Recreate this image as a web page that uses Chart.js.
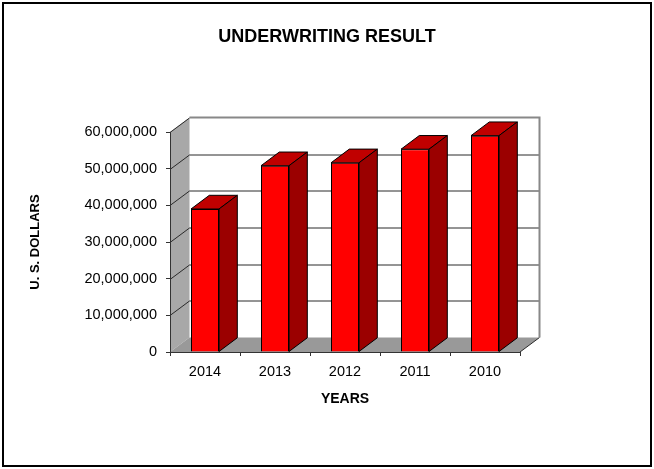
<!DOCTYPE html>
<html>
<head>
<meta charset="utf-8">
<title>Underwriting Result</title>
<script src="https://cdn.jsdelivr.net/npm/chart.js@4.4.1/dist/chart.umd.min.js"></script>
<style>
  html, body { margin: 0; padding: 0; background: #fff; }
  canvas { display: block; }
</style>
</head>
<body>
<canvas id="chart" width="654" height="469"></canvas>
<script>
const years = ['2014', '2013', '2012', '2011', '2010'];
const dollars = [39000000, 50800000, 51600000, 55300000, 59000000];
const yTicks = [0, 10000000, 20000000, 30000000, 40000000, 50000000, 60000000];

// depth of the box walls and of each column (px)
const WALL_DX = 19.5, WALL_DY = -14.5;
const BAR_DX = 18.3, BAR_DY = -13.7;

function poly(ctx, pts) {
  ctx.beginPath();
  ctx.moveTo(pts[0][0], pts[0][1]);
  for (let i = 1; i < pts.length; i++) ctx.lineTo(pts[i][0], pts[i][1]);
  ctx.closePath();
}

function line(ctx, x0, y0, x1, y1) {
  ctx.beginPath();
  ctx.moveTo(x0, y0);
  ctx.lineTo(x1, y1);
  ctx.stroke();
}

// walls, floor, gridlines and the extruded faces of the columns
const box3d = {
  id: 'box3d',
  beforeDraw(chart) {
    const {ctx, chartArea: a, scales: {y}} = chart;
    const l = a.left, r = a.right, t = a.top, b = a.bottom;
    ctx.save();
    ctx.fillStyle = '#a8a8a8';
    poly(ctx, [[l, t], [l + WALL_DX, t + WALL_DY], [l + WALL_DX, b + WALL_DY], [l, b]]);
    ctx.fill();
    ctx.fillStyle = '#999999';
    poly(ctx, [[l, b], [l + WALL_DX, b + WALL_DY], [r + WALL_DX, b + WALL_DY], [r, b]]);
    ctx.fill();

    ctx.strokeStyle = '#2a2a2a';
    ctx.lineWidth = 1;
    yTicks.forEach(v => {
      if (v === 0) return;
      const yf = Math.round(y.getPixelForValue(v)) + 0.5;
      const yb = yf + WALL_DY;
      line(ctx, l, yf, l + WALL_DX, yb);
      if (v < yTicks[yTicks.length - 1]) line(ctx, l + WALL_DX, yb, r + WALL_DX, yb);
    });
    line(ctx, r, b, r + WALL_DX, b + WALL_DY);

    // back wall outline
    ctx.strokeStyle = '#888888';
    ctx.lineWidth = 2;
    ctx.beginPath();
    ctx.moveTo(l + WALL_DX, t + WALL_DY);
    ctx.lineTo(r + WALL_DX, t + WALL_DY);
    ctx.lineTo(r + WALL_DX, b + WALL_DY);
    ctx.stroke();
    ctx.restore();
  },
  afterDatasetsDraw(chart) {
    const ctx = chart.ctx;
    ctx.save();
    ctx.strokeStyle = '#000';
    ctx.lineWidth = 1;
    ctx.lineJoin = 'round';
    chart.getDatasetMeta(0).data.forEach(bar => {
      const {x, y, base, width} = bar.getProps(['x', 'y', 'base', 'width'], true);
      const x0 = x - width / 2, x1 = x + width / 2;
      ctx.fillStyle = '#c00000';
      poly(ctx, [[x0, y], [x1, y], [x1 + BAR_DX, y + BAR_DY], [x0 + BAR_DX, y + BAR_DY]]);
      ctx.fill();
      ctx.stroke();
      ctx.fillStyle = '#9b0000';
      poly(ctx, [[x1, y], [x1 + BAR_DX, y + BAR_DY], [x1 + BAR_DX, base + BAR_DY], [x1, base]]);
      ctx.fill();
      ctx.stroke();
    });
    ctx.restore();
  },
  afterDraw(chart) {
    const ctx = chart.ctx;
    ctx.save();
    ctx.strokeStyle = '#000';
    ctx.lineWidth = 2;
    ctx.strokeRect(3, 3, chart.width - 6, chart.height - 6);
    ctx.restore();
  }
};

Chart.defaults.font.family = '"Liberation Sans", Arial, sans-serif';
Chart.defaults.color = '#000';

new Chart(document.getElementById('chart'), {
  type: 'bar',
  data: {
    labels: years,
    datasets: [{
      data: dollars,
      backgroundColor: '#ff0000',
      borderColor: '#000',
      borderWidth: 1,
      categoryPercentage: 0.4,
      barPercentage: 1
    }]
  },
  options: {
    responsive: false,
    animation: false,
    devicePixelRatio: 1,
    layout: { padding: { top: 0, left: 0, right: 0, bottom: 57 } },
    plugins: {
      legend: { display: false },
      tooltip: { enabled: false },
      title: {
        display: true,
        text: 'UNDERWRITING RESULT',
        color: '#000',
        font: { size: 18, weight: 'bold' },
        padding: { top: 26, bottom: 84.4 }
      }
    },
    scales: {
      x: {
        offset: true,
        grid: { offset: true, drawOnChartArea: false, tickLength: 4, color: '#333' },
        border: { color: '#333' },
        ticks: { font: { size: 14.5 }, padding: 7 },
        title: {
          display: true,
          text: 'YEARS',
          font: { size: 14, weight: 'bold' },
          padding: { top: 0, bottom: 4 }
        },
        afterFit(s) { s.height = 60; }
      },
      y: {
        min: 0,
        max: 60000000,
        afterBuildTicks(s) { s.ticks = yTicks.map(v => ({ value: v })); },
        grid: { drawOnChartArea: false, tickLength: 4, color: '#333' },
        border: { color: '#333' },
        ticks: { font: { size: 14.5 }, padding: 9, callback: v => v.toLocaleString('en-US') },
        title: {
          display: true,
          text: 'U. S. DOLLARS',
          font: { size: 13, weight: 'bold' },
          padding: { top: 28 }
        },
        afterFit(s) { s.width = 170; }
      },
      // keeps room on the right for the depth of the box
      depth: {
        position: 'right',
        grid: { display: false },
        border: { display: false },
        ticks: { display: false },
        afterFit(s) { s.width = 134; }
      }
    }
  },
  plugins: [box3d]
});
</script>
</body>
</html>
